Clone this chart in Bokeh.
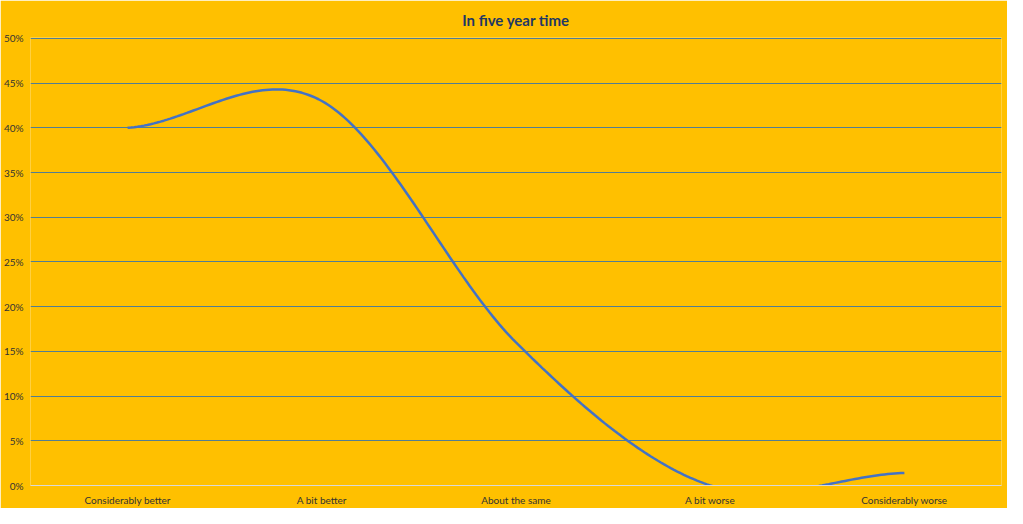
import numpy as np
from bokeh.plotting import figure
from bokeh.models import Range1d, FixedTicker, PrintfTickFormatter
from bokeh.embed import file_html
from bokeh.resources import INLINE

categories = ["Considerably better", "A bit better", "About the same", "A bit worse", "Considerably worse"]
values = [40.0, 43.0, 16.0, 0.0, 1.4]
y_ticks = [0, 5, 10, 15, 20, 25, 30, 35, 40, 45, 50]

# Excel-like smoothed line (Catmull-Rom / Hermite through the data points)
xs_pts = np.arange(len(values), dtype=float)
ys_pts = np.array(values, dtype=float)
n = len(ys_pts)
m = np.zeros(n)
for i in range(n):
    if i == 0:
        m[i] = (ys_pts[1] - ys_pts[0]) / 2.0
    elif i == n - 1:
        m[i] = (ys_pts[-1] - ys_pts[-2]) / 2.0
    else:
        m[i] = (ys_pts[i + 1] - ys_pts[i - 1]) / 2.0
curve_x, curve_y = [], []
for i in range(n - 1):
    t = np.linspace(0, 1, 60)
    h00 = 2 * t**3 - 3 * t**2 + 1
    h10 = t**3 - 2 * t**2 + t
    h01 = -2 * t**3 + 3 * t**2
    h11 = t**3 - t**2
    yy = h00 * ys_pts[i] + h10 * m[i] + h01 * ys_pts[i + 1] + h11 * m[i + 1]
    xx = xs_pts[i] + t
    curve_x.extend(xx.tolist())
    curve_y.extend(yy.tolist())

BG = "#FFC000"
p = figure(width=1007, height=508, output_backend="svg", toolbar_location=None,
           x_range=Range1d(-0.5, 4.5), y_range=Range1d(0, 50.1),
           min_border_left=29, min_border_right=6, min_border_top=36, min_border_bottom=22)
p.background_fill_color = BG
p.border_fill_color = BG
p.outline_line_color = None

p.title.text = "In five year time"
p.title.align = "center"
p.title.text_font = "Lato"
p.title.text_font_style = "bold"
p.title.text_font_size = "15px"
p.title.text_color = "#1F3864"
p.title.standoff = 17

p.line(curve_x, curve_y, line_color="#4472C4", line_width=2.5)

p.xgrid.grid_line_color = None
p.ygrid.grid_line_color = "#527E92"
p.ygrid.grid_line_width = 1

p.yaxis.ticker = FixedTicker(ticks=y_ticks)
p.yaxis.formatter = PrintfTickFormatter(format="%d%%")
p.yaxis.axis_line_color = None
p.yaxis.major_tick_line_color = None
p.yaxis.minor_tick_line_color = None
p.yaxis.major_tick_in = 0
p.yaxis.major_tick_out = 0
p.yaxis.minor_tick_in = 0
p.yaxis.minor_tick_out = 0
p.yaxis.major_label_text_font = "Lato"
p.yaxis.major_label_text_font_size = "10px"
p.yaxis.major_label_text_color = "#333333"
p.yaxis.major_label_standoff = 7

p.xaxis.ticker = FixedTicker(ticks=list(range(len(categories))))
p.xaxis.major_label_overrides = {i: c for i, c in enumerate(categories)}
p.xaxis.axis_line_color = "#D9D9D9"
p.xaxis.axis_line_width = 1
p.xaxis.major_tick_line_color = None
p.xaxis.minor_tick_line_color = None
p.xaxis.major_tick_in = 0
p.xaxis.major_tick_out = 0
p.xaxis.minor_tick_in = 0
p.xaxis.minor_tick_out = 0
p.xaxis.major_label_text_font = "Lato"
p.xaxis.major_label_text_font_size = "10px"
p.xaxis.major_label_text_color = "#333333"
p.xaxis.major_label_standoff = 8

open("out.html", "w").write(file_html(p, INLINE))
